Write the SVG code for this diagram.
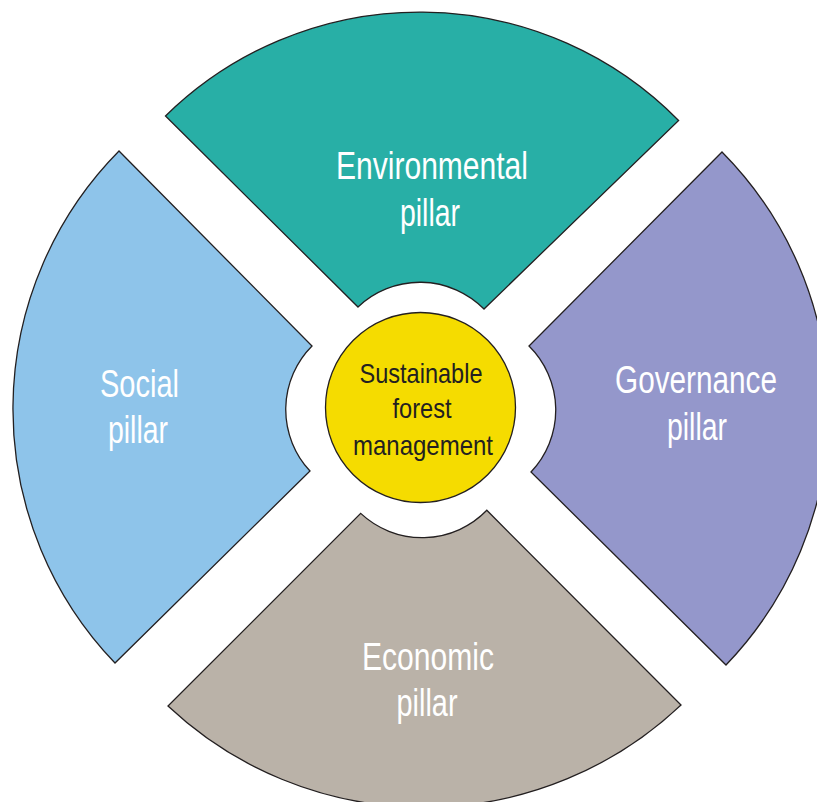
<svg xmlns="http://www.w3.org/2000/svg" width="817" height="802" viewBox="0 0 817 802">
<style>
.sec{stroke:#231F20;stroke-width:1.3;stroke-linejoin:miter}
.lbl{font-family:"Liberation Sans",Arial,sans-serif;font-size:38px;fill:#FFFFFF;text-anchor:middle}
.ctr{font-family:"Liberation Sans",Arial,sans-serif;font-size:28px;fill:#231F20;text-anchor:middle}
</style>
<rect width="817" height="802" fill="#FFFFFF"/>
<g id="environmental">
<path class="sec" fill="#28AFA6" d="M165.5 116 A363 363 0 0 1 678.6 120.5 L484 309 A90 90 0 0 0 358 307 Z"/>
<text class="lbl" x="432" y="179" textLength="192" lengthAdjust="spacingAndGlyphs">Environmental</text>
<text class="lbl" x="430" y="226" textLength="60" lengthAdjust="spacingAndGlyphs">pillar</text>
</g>
<g id="governance">
<path class="sec" fill="#9497CB" d="M722 152 A367 367 0 0 1 726 665 L531 472 A90 90 0 0 0 529 346 Z"/>
<text class="lbl" x="696" y="393" textLength="162" lengthAdjust="spacingAndGlyphs">Governance</text>
<text class="lbl" x="697" y="440" textLength="60" lengthAdjust="spacingAndGlyphs">pillar</text>
</g>
<g id="economic">
<path class="sec" fill="#BAB2A8" d="M681 705 A374 374 0 0 1 168 706 L360.7 513.4 A90 90 0 0 0 486.8 510.3 Z"/>
<text class="lbl" x="428" y="670" textLength="132" lengthAdjust="spacingAndGlyphs">Economic</text>
<text class="lbl" x="427" y="716" textLength="61" lengthAdjust="spacingAndGlyphs">pillar</text>
</g>
<g id="social">
<path class="sec" fill="#8EC4EA" d="M115 663 A367 367 0 0 1 119 151 L312 346 A90 90 0 0 0 310 471 Z"/>
<text class="lbl" x="139.5" y="397" textLength="79" lengthAdjust="spacingAndGlyphs">Social</text>
<text class="lbl" x="138" y="443" textLength="60" lengthAdjust="spacingAndGlyphs">pillar</text>
</g>
<g id="center">
<circle class="sec" fill="#F5DC00" cx="420.5" cy="407.5" r="95"/>
<text class="ctr" x="421" y="383.3" textLength="123" lengthAdjust="spacingAndGlyphs">Sustainable</text>
<text class="ctr" x="422" y="418.3" textLength="59" lengthAdjust="spacingAndGlyphs">forest</text>
<text class="ctr" x="423" y="455" textLength="140" lengthAdjust="spacingAndGlyphs">management</text>
</g>
<g id="connectors"/>
</svg>
